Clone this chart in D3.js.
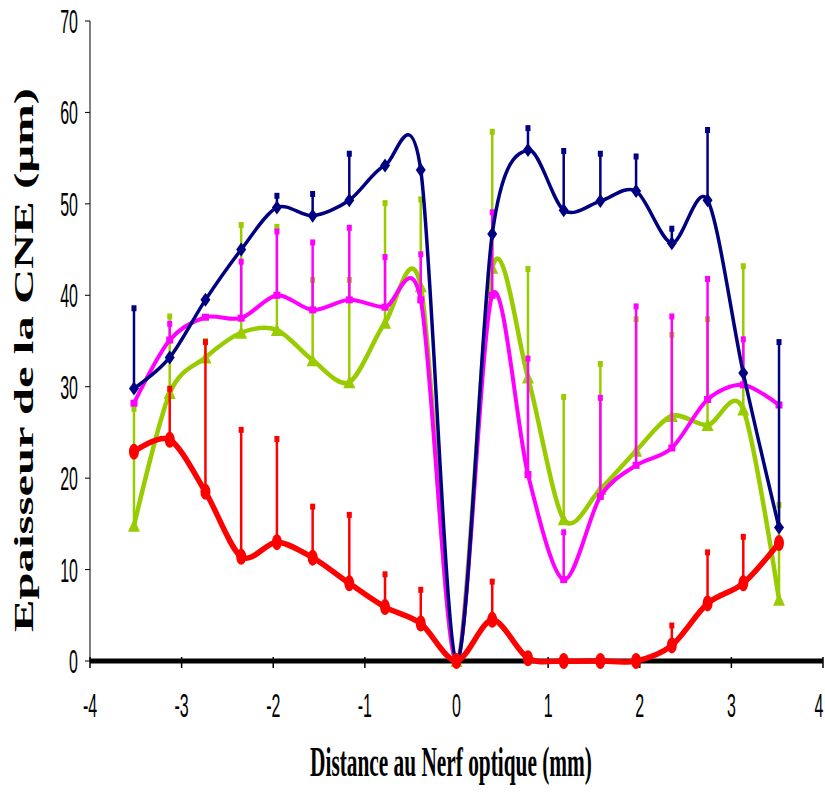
<!DOCTYPE html>
<html><head><meta charset="utf-8">
<script src="https://cdn.jsdelivr.net/npm/d3@7"></script>
<style>body{margin:0;background:#fff}svg{display:block}</style>
</head><body>
<script>
const xVals = [-3.52,-3.13,-2.74,-2.35,-1.96,-1.57,-1.17,-0.78,-0.39,0,0.39,0.78,1.17,1.57,1.96,2.35,2.74,3.13,3.52];
const blue  = [29.8,33.2,39.5,45,49.6,48.7,50.4,54.2,53.7,0,46.7,55.9,49.3,50.3,51.4,45.7,50.4,31.5,14.6];
const blueErr = [9,0,0,0,1.5,2.6,5.3,0,0,0,0,2.6,6.7,5.4,4,1.8,7.9,0,20.5];
const green = [14.8,29.3,33.2,35.9,36.2,32.9,30.5,37,41,0,43,31,15.5,18.8,23,26.8,25.8,27.5,6.7];
const greenErr = [13,8.6,2,12,11.5,9,11.4,13.3,9.7,0,15.1,12.1,13.6,13.9,14.6,9.1,11.8,15.9,10.6];
const pink  = [28.2,35.1,37.6,37.5,40,38.4,39.5,38.7,39.5,0,40,20.4,8.9,18,21.4,23.3,28.6,30.2,28];
const pinkErr = [0,2,0,6.4,7.2,7.6,8.1,5.7,5.2,0,9.3,12.9,5.4,11,17.6,14.6,13.4,5.2,0];
const red   = [22.9,24.2,18.5,11.4,13,11.3,8.5,5.9,4.1,0,4.5,0.3,0,0,0,1.7,6.3,8.5,12.9];
const redErr = [0,5.8,16.6,14.1,11.5,5.8,7.7,3.8,3.9,0,4.4,0,0,0,0,2.4,5.8,5.3,0];
const xTicks = [-4,-3,-2,-1,0,1,2,3,4];
const yTicks = [0,10,20,30,40,50,60,70];
const yTitle = "Epaisseur de la CNE (µm)";
const xTitle = "Distance au Nerf optique (mm)";

const W = 825, H = 792;
const svg = d3.select("body").append("svg").attr("width", W).attr("height", H);
const x = d3.scaleLinear().domain([-4,4]).range([90,823]);
const y = d3.scaleLinear().domain([0,70]).range([661,21]);
const tickFont = "Liberation Sans, Arial, sans-serif";

// y axis line + ticks
svg.append("line").attr("x1",x(-4)).attr("x2",x(-4)).attr("y1",y(70)).attr("y2",y(0)).attr("stroke","#000").attr("stroke-width",1);
yTicks.forEach(t=>{
  svg.append("line").attr("x1",x(-4)-5).attr("x2",x(-4)).attr("y1",y(t)).attr("y2",y(t)).attr("stroke","#000");
  svg.append("text").attr("transform",`translate(${x(-4)-12},${y(t)+12}) scale(0.47,1)`)
    .attr("text-anchor","end").attr("font-family",tickFont).attr("font-size",34).text(t);
});
// x ticks
xTicks.forEach(t=>{
  svg.append("line").attr("x1",x(t)).attr("x2",x(t)).attr("y1",y(0)-4).attr("y2",y(0)+7).attr("stroke","#000").attr("stroke-width",1.5);
  const px = Math.min(x(t), 819);
  svg.append("text").attr("transform",`translate(${px},${y(0)+56}) scale(0.47,1)`)
    .attr("text-anchor","middle").attr("font-family",tickFont).attr("font-size",34).text(t);
});

const series = [
  {v:green, e:greenErr, c:"#99CC00", w:4.5, m:"tri"},
  {v:pink, e:pinkErr, c:"#FF00FF", w:4, m:"sq"},
  {v:blue, e:blueErr, c:"#000080", w:3.5, m:"dia"},
  {v:red, e:redErr, c:"#FF0000", w:5.5, m:"ell"}
];
const line = d3.line().x((d,i)=>x(xVals[i])).y(d=>y(d)).curve(d3.curveCardinal.tension(0.1));

svg.append("line").attr("x1",x(-4)).attr("x2",x(4)).attr("y1",y(0)).attr("y2",y(0)).attr("stroke","#000").attr("stroke-width",5);

series.forEach(s=>{
  const g = svg.append("g");
  s.v.forEach((v,i)=>{
    if(!s.e[i]) return;
    g.append("line").attr("x1",x(xVals[i])).attr("x2",x(xVals[i])).attr("y1",y(v)).attr("y2",y(v+s.e[i]))
      .attr("stroke",s.c).attr("stroke-width",2.5);
    g.append("rect").attr("x",x(xVals[i])-2.5).attr("y",y(v+s.e[i])-1).attr("width",5).attr("height",6).attr("fill",s.c);
  });
  g.append("path").attr("d",line(s.v)).attr("fill","none").attr("stroke",s.c).attr("stroke-width",s.w).attr("stroke-linejoin","round");
  s.v.forEach((v,i)=>{
    const cx = x(xVals[i]), cy = y(v);
    if(s.m==="tri") g.append("path").attr("d",`M${cx},${cy-7}L${cx+6},${cy+6}L${cx-6},${cy+6}Z`).attr("fill",s.c);
    else if(s.m==="sq") g.append("rect").attr("x",cx-3.5).attr("y",cy-3.5).attr("width",7).attr("height",7).attr("fill",s.c);
    else if(s.m==="dia") g.append("path").attr("d",`M${cx},${cy-7}L${cx+5},${cy}L${cx},${cy+7}L${cx-5},${cy}Z`).attr("fill",s.c);
    else g.append("ellipse").attr("cx",cx).attr("cy",cy).attr("rx",5).attr("ry",8).attr("fill",s.c);
  });
});

// titles: measure, then scale to target length
function fitText(txt, cx, cy, rot, targetLen, attrs){
  const t = svg.append("text").attr("text-anchor","middle").text(txt);
  Object.entries(attrs).forEach(([k,v])=>t.attr(k,v));
  const natural = t.node().getComputedTextLength();
  const k = targetLen / natural;
  t.attr("transform",`translate(${cx},${cy}) rotate(${rot}) scale(${k},1)`);
}
fitText(xTitle, 451, 776, 0, 282, {"font-family":"Liberation Serif, Times New Roman, serif","font-size":42,"font-weight":"bold"});
fitText(yTitle, 33, 360, -90, 544, {"font-family":"Liberation Serif, Times New Roman, serif","font-size":28,"font-weight":"bold"});
</script>
</body></html>
